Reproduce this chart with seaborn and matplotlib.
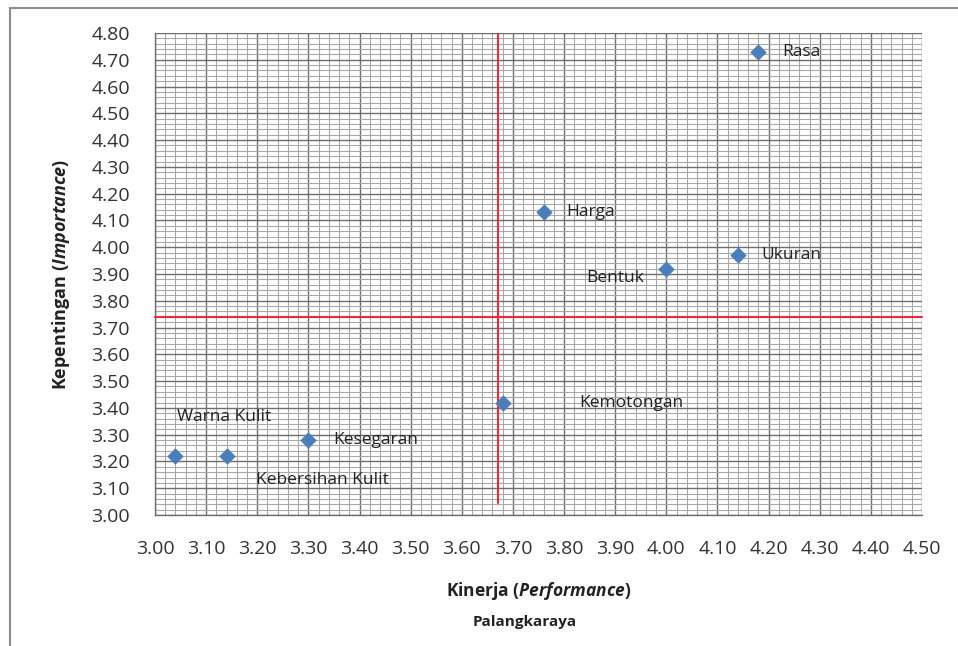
import matplotlib
matplotlib.use("Agg")
import matplotlib.pyplot as plt
import seaborn as sns
import pandas as pd
from matplotlib.ticker import MultipleLocator, FormatStrFormatter
from matplotlib.patches import Rectangle

# data
atribut = ["Warna Kulit", "Kebersihan Kulit", "Kesegaran", "Kemotongan",
           "Harga", "Bentuk", "Ukuran", "Rasa"]
kinerja = [3.04, 3.14, 3.30, 3.68, 3.76, 4.00, 4.14, 4.18]
kepentingan = [3.22, 3.22, 3.28, 3.42, 4.13, 3.92, 3.97, 4.73]
garis_x = 3.67   # red vertical divider
garis_y = 3.74   # red horizontal divider

# label offsets in points (dx, dy, ha)
offset = {
    "Warna Kulit": (1, 28, "left"),
    "Kebersihan Kulit": (21, -17, "left"),
    "Kesegaran": (18, 0, "left"),
    "Kemotongan": (55, 0, "left"),
    "Harga": (16, 0, "left"),
    "Bentuk": (-16, -7, "right"),
    "Ukuran": (17, 0, "left"),
    "Rasa": (17, 0, "left"),
}

sns.set_style("white")
plt.rcParams["font.family"] = ["Open Sans", "DejaVu Sans"]
plt.rcParams["mathtext.fontset"] = "custom"
plt.rcParams["mathtext.it"] = "Open Sans:italic:bold"
plt.rcParams["mathtext.rm"] = "Open Sans:bold"

df = pd.DataFrame({"atribut": atribut, "kinerja": kinerja, "kepentingan": kepentingan})

fig = plt.figure(figsize=(9.58, 6.46), dpi=100)
ax = fig.add_axes([155 / 958, 1 - 515 / 646, 767 / 958, 482 / 646])

# outer chart frame (bottom and right edges fall outside the picture)
fig.patches.append(Rectangle((10 / 958, -0.1), 1.2, 1.1 - 8 / 646,
                             transform=fig.transFigure, fill=False,
                             edgecolor="#8c8c8c", linewidth=1.5))

ax.set_xlim(3.0, 4.5)
ax.set_ylim(3.0, 4.8)
ax.xaxis.set_major_locator(MultipleLocator(0.1))
ax.yaxis.set_major_locator(MultipleLocator(0.1))
ax.xaxis.set_minor_locator(MultipleLocator(0.02))
ax.yaxis.set_minor_locator(MultipleLocator(0.02))
ax.xaxis.set_major_formatter(FormatStrFormatter("%.2f"))
ax.yaxis.set_major_formatter(FormatStrFormatter("%.2f"))
ax.grid(which="major", color="#6e6e6e", linewidth=1.0)
ax.grid(which="minor", color="#a8a8a8", linewidth=0.8)
ax.set_axisbelow(True)

ax.plot([garis_x, garis_x], [3.045, 4.8], color="#ee2a3a", linewidth=1.5, zorder=3)
ax.plot([3.0, 4.5], [garis_y, garis_y], color="#ee2a3a", linewidth=1.5, zorder=3,
        clip_on=False)

sns.scatterplot(data=df, x="kinerja", y="kepentingan", marker="D", s=60,
                color="#4a7ebb", edgecolor="#4a7ebb", ax=ax, zorder=4)

for a, x, y in zip(atribut, kinerja, kepentingan):
    dx, dy, ha = offset[a]
    ax.annotate(a, (x, y), xytext=(dx, dy), textcoords="offset points",
                ha=ha, va="center", fontsize=12.5, color="#222222")

for s in ["top", "right"]:
    ax.spines[s].set_visible(False)
for s in ["left", "bottom"]:
    ax.spines[s].set_color("#6e6e6e")
    ax.spines[s].set_linewidth(1.0)

ax.tick_params(axis="x", which="major", direction="out", length=7, width=1,
               color="#6e6e6e", pad=11, labelsize=14, labelcolor="#333333")
ax.tick_params(axis="y", which="major", direction="out", length=4, width=1,
               color="#6e6e6e", pad=14, labelsize=14, labelcolor="#333333")
ax.tick_params(which="minor", length=0)

ax.set_xlabel(r"Kinerja ($\mathit{Performance}$)", fontsize=12.5,
              fontweight="bold", color="#222222", labelpad=16)
ax.set_ylabel(r"Kepentingan ($\mathit{Importance}$)", fontsize=13,
              fontweight="bold", color="#222222", labelpad=14)
fig.text(525 / 958, 1 - 622 / 646, "Palangkaraya", ha="center", va="center",
         fontsize=11, fontweight="bold", color="#222222")

fig.savefig("out.png", dpi=100)
